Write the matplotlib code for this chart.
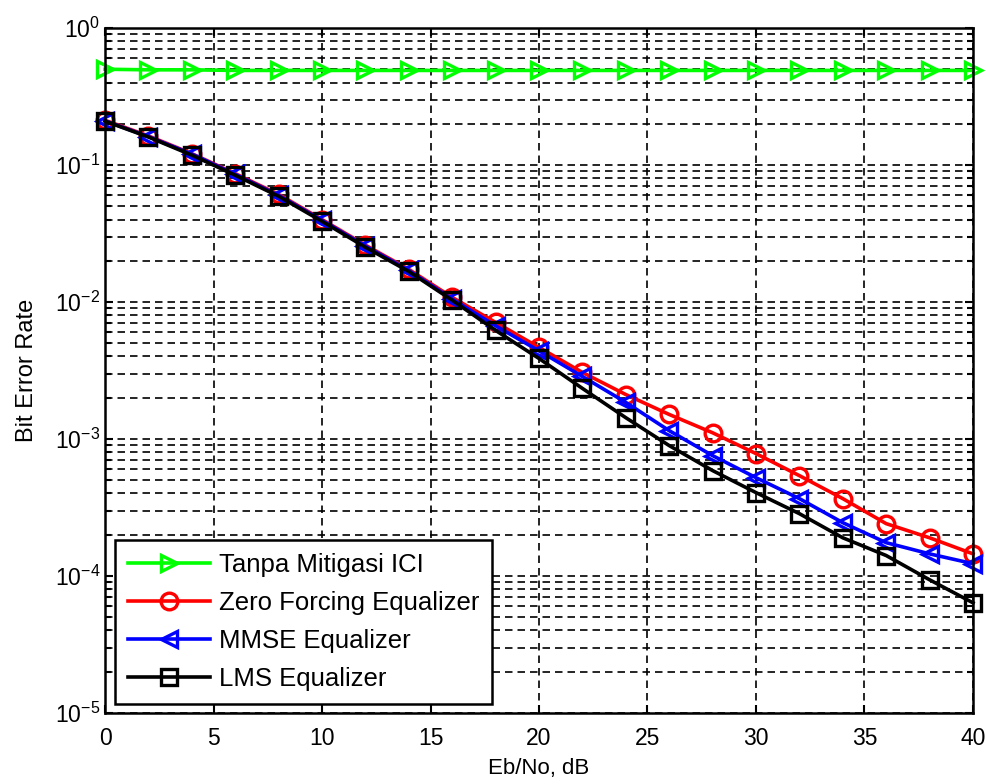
import numpy as np
import matplotlib
matplotlib.use('Agg')
import matplotlib.pyplot as plt
from matplotlib.ticker import LogLocator, NullFormatter

plt.rcParams['font.family'] = ['Liberation Sans', 'DejaVu Sans']
plt.rcParams['mathtext.fontset'] = 'custom'
plt.rcParams['mathtext.rm'] = 'Liberation Sans'

# Eb/No (dB)
ebno = [0, 2, 4, 6, 8, 10, 12, 14, 16, 18, 20, 22, 24, 26, 28, 30, 32, 34, 36, 38, 40]

# BER per scheme
ber_none = [0.50, 0.495, 0.495, 0.49, 0.49, 0.49, 0.49, 0.49, 0.49, 0.49, 0.49,
            0.49, 0.49, 0.49, 0.49, 0.49, 0.49, 0.49, 0.49, 0.49, 0.49]
ber_zf = [0.212, 0.163, 0.121, 0.0865, 0.061, 0.0400, 0.0260, 0.0173, 0.0108, 0.0071,
          0.00466, 0.00306, 0.00211, 0.00151, 0.00111, 0.000782, 0.00054, 0.000367,
          0.000241, 0.00019, 0.000145]
ber_mmse = [0.210, 0.161, 0.120, 0.0855, 0.060, 0.0394, 0.0256, 0.0170, 0.0105, 0.0067,
            0.0044, 0.00286, 0.00185, 0.00115, 0.000756, 0.000522, 0.000367, 0.000245,
            0.000175, 0.000145, 0.000123]
ber_lms = [0.209, 0.160, 0.118, 0.0842, 0.0591, 0.0388, 0.0251, 0.0167, 0.0103, 0.0062,
           0.00387, 0.00234, 0.00143, 0.000895, 0.000588, 0.000406, 0.000285, 0.00019,
           0.000141, 0.0000938, 0.0000637]

fig = plt.figure(figsize=(9.87, 7.84), dpi=100)
ax = fig.add_axes([0.1064, 0.0906, 0.8794, 0.8737])

kw = dict(linewidth=2.6, markersize=12, markeredgewidth=2.4,
          markerfacecolor='none', clip_on=False)
ax.semilogy(ebno, ber_none, '->', color='#00ff00', label='Tanpa Mitigasi ICI', **kw)
ax.semilogy(ebno, ber_zf, '-o', color='#ff0000', label='Zero Forcing Equalizer', **kw)
ax.semilogy(ebno, ber_mmse, '-<', color='#0000ff', label='MMSE Equalizer', **kw)
ax.semilogy(ebno, ber_lms, '-s', color='#000000', label='LMS Equalizer', **kw)

ax.set_xlim(0, 40)
ax.set_ylim(1e-5, 1)
ax.set_xticks(range(0, 41, 5))
ax.yaxis.set_major_locator(LogLocator(base=10, numticks=10))
ax.yaxis.set_minor_locator(LogLocator(base=10, subs=np.arange(2, 10), numticks=20))
ax.yaxis.set_minor_formatter(NullFormatter())

ax.grid(True, which='major', linestyle=(0, (4.5, 3)), color='black', linewidth=1.2)
ax.grid(True, which='minor', axis='y', linestyle=(0, (4.5, 3)), color='black', linewidth=1.2)

ax.tick_params(which='both', direction='in', top=True, right=True, labelsize=16.5)
ax.tick_params(axis='x', pad=10)
ax.tick_params(which='major', length=6, width=1.5)
ax.tick_params(which='minor', length=4, width=1.5)
for s in ax.spines.values():
    s.set_linewidth(1.8)

ax.set_xlabel('Eb/No, dB', fontsize=16, labelpad=6)
ax.set_ylabel('Bit Error Rate', fontsize=17, labelpad=12)

leg = ax.legend(loc='lower left', fontsize=18.5, fancybox=False, framealpha=1,
                edgecolor='black', handlelength=3.2, borderpad=0.5,
                labelspacing=0.55, handletextpad=0.35, borderaxespad=0,
                bbox_to_anchor=(0.0115, 0.013))
leg.get_frame().set_linewidth(1.8)

fig.savefig('out.png', dpi=100)
